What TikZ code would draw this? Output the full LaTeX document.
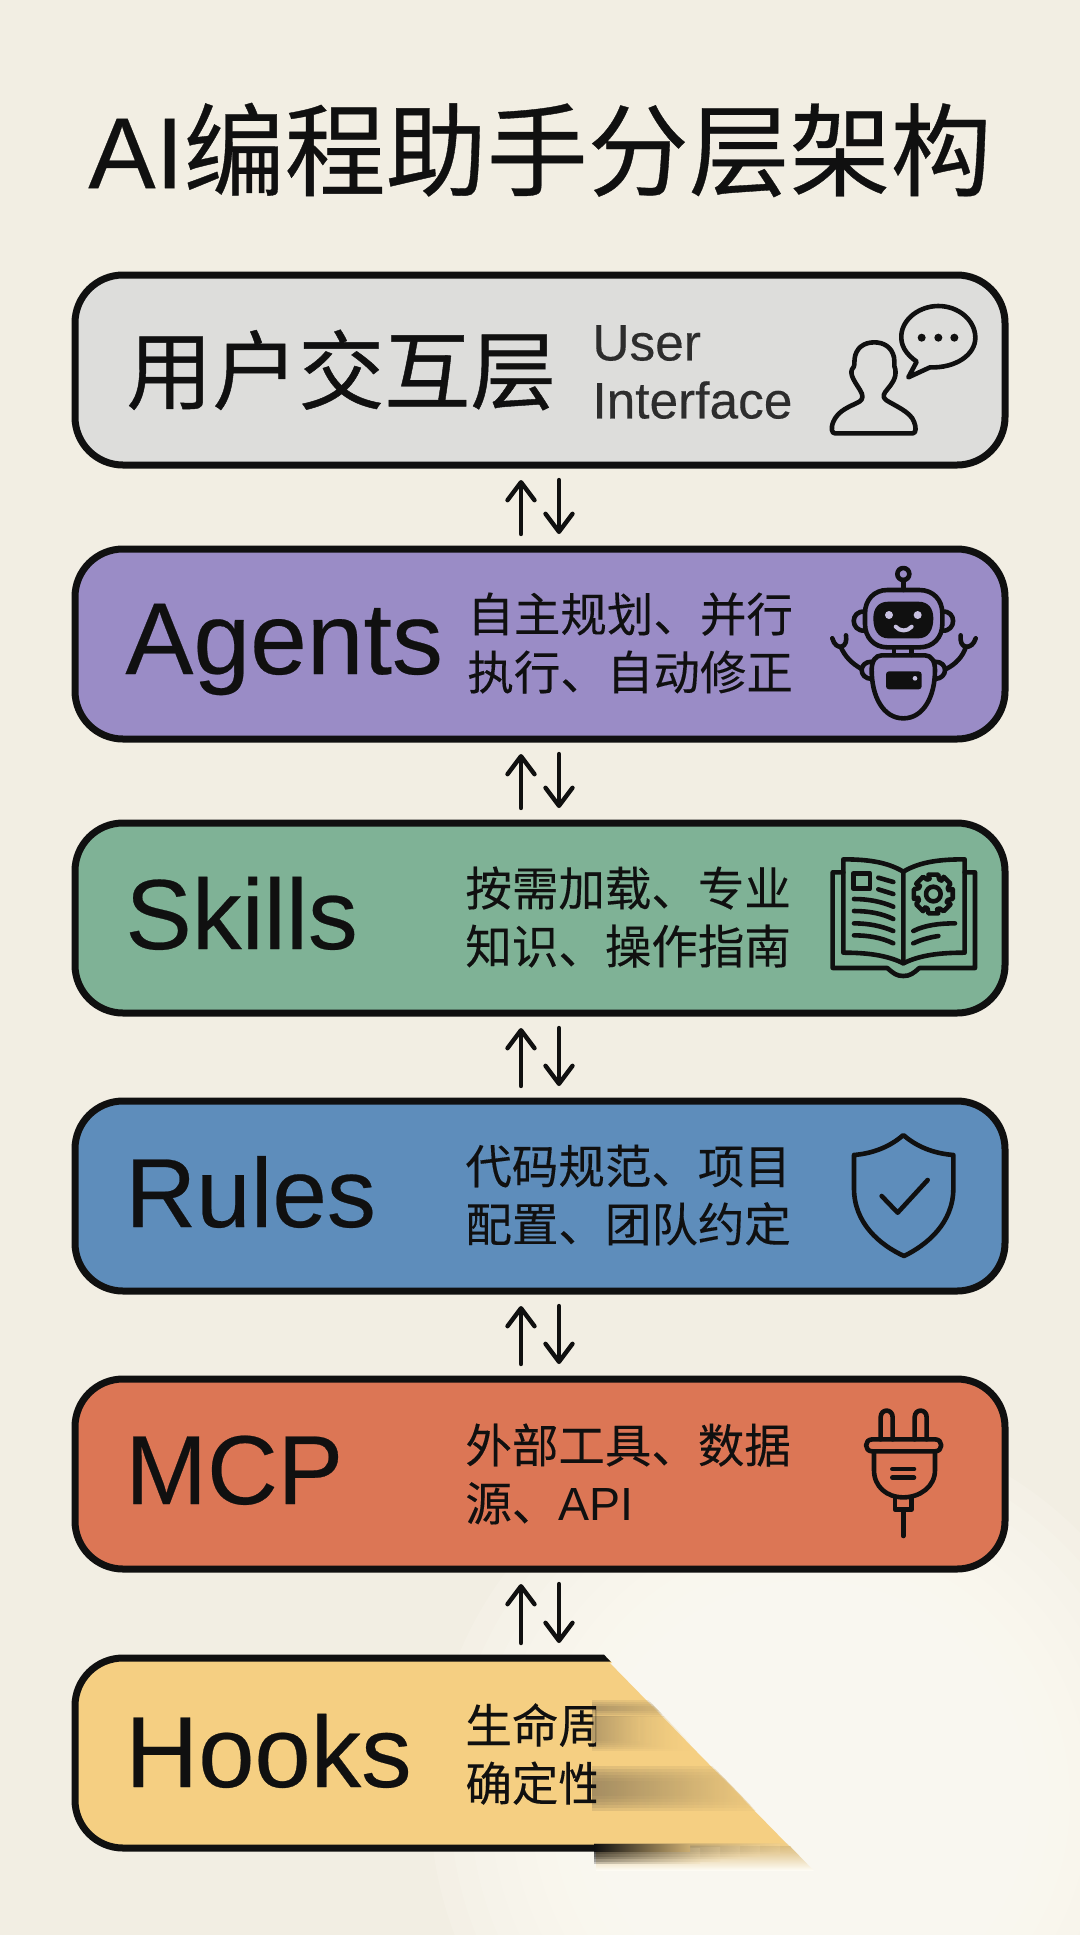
\documentclass[tikz,border=0pt]{standalone}
\usepackage{fontspec}
\setmainfont[FakeBold=0.25]{Liberation Sans}
\newfontfamily\cjk[FakeBold=0.5]{Noto Sans CJK SC}
\newfontfamily\cjkh[FakeBold=0.35]{Noto Sans CJK SC}
\newfontfamily\cjkt[FakeBold=0.2]{Noto Sans CJK SC}
\usetikzlibrary{arrows.meta}
\definecolor{bgc}{HTML}{F2EEE3}
\definecolor{ink}{HTML}{101010}
\definecolor{cgray}{HTML}{DDDDDB}
\definecolor{cpurple}{HTML}{9A8CC6}
\definecolor{cgreen}{HTML}{7FB296}
\definecolor{cblue}{HTML}{5E8DBB}
\definecolor{corange}{HTML}{DC7655}
\definecolor{cyellow}{HTML}{F5CF82}
\definecolor{smear}{HTML}{8F7C5A}
\definecolor{glow}{HTML}{FDFBF3}
\definecolor{warmwhite}{HTML}{FFFDF6}
\tikzset{
  layerbox/.style={draw=ink,line width=3.5pt,rounded corners=24pt,minimum width=465pt,minimum height=95pt,outer sep=0pt,inner sep=0pt},
  biglabel/.style={anchor=base west,text=ink,inner sep=0pt,font=\fontsize{49}{56}\selectfont},
  bigcjk/.style={anchor=west,text=ink,inner sep=0pt,font=\cjk\fontsize{43}{50}\selectfont},
  desc/.style={anchor=west,text=ink,inner sep=0pt,align=left,font=\cjkt\fontsize{23.25}{29}\selectfont},
  descen/.style={anchor=west,text=ink!88,inner sep=0pt,align=left,font=\fontsize{25.7}{29}\selectfont},
  uparr/.style={draw=ink,line width=2.2pt,line cap=round,-{Straight Barb[length=9pt,width=13.5pt,line width=2.2pt,round]},shorten <=7.5pt,shorten >=7.5pt},
  ico/.style={draw=ink,line width=2.3pt,line cap=round,line join=round},
  zoomgrid/.style={x=0.16667pt,y=-0.16667pt},
}
\begin{document}
\begin{tikzpicture}[x=0.5pt,y=-0.5pt]
\useasboundingbox (0,0) rectangle (1080,1935);
\fill[bgc] (0,0) rectangle (1080,1935);
\begin{scope}
  \clip (0,0) rectangle (1080,1935);
  \foreach \r in {140,160,...,380}{
    \fill[warmwhite,opacity=.16] (810,1800) circle (\r);
  }
\end{scope}

\node[inner sep=0pt,text=ink,font=\fontsize{50.5}{58}\selectfont] (title) at (540,150) {AI{\cjkh 编程助手分层架构}};

% layers
\node[layerbox,fill=cgray] (b1) at (540,370) {};
\node[layerbox,fill=cpurple] (b2) at (540,644) {};
\node[layerbox,fill=cgreen] (b3) at (540,918) {};
\node[layerbox,fill=cblue] (b4) at (540,1196) {};
\node[layerbox,fill=corange] (b5) at (540,1474) {};

% faded last layer
\fill[cyellow] (560,1659) -- (606,1659) -- (790,1847) -- (560,1847) -- cycle;
\begin{scope}
  \clip (0,1640) -- (590,1640) -- (612,1663) -- (596,1663) -- (596,1880) -- (0,1880) -- cycle;
  \node[layerbox,fill=cyellow] (b6) at (540,1753) {};
\end{scope}
\begin{scope}
  \clip (560,1640) -- (590,1640) -- (816,1873) -- (560,1873) -- cycle;
  \shade[top color=cyellow!75!smear,bottom color=glow] (596,1846) rectangle (830,1870);
  \foreach \i in {0,1,2,3,4,5}{
    \shade[left color=smear,right color=cyellow,opacity=.2] (592,1700+\i*2) rectangle (750-\i*12,1716-\i*2);
    \shade[left color=smear,right color=cyellow,opacity=.14] (592,1716) rectangle (690-\i*10,1750-\i*2);
    \shade[left color=smear,right color=cyellow,opacity=.22] (592,1766+\i*3) rectangle (790-\i*8,1810-\i*3);
    \shade[left color=ink,right color=cyellow!60!bgc,opacity=.22] (594,1843+\i) rectangle (800-\i*20,1851+\i*2.5);
  }
  \shade[left color=ink,right color=cyellow!60!smear] (594,1844) rectangle (690,1851);
\end{scope}

% connectors
\foreach \a/\b in {b1/b2,b2/b3,b3/b4,b4/b5,b5/b6}{
  \draw[uparr] ([xshift=-9.5pt]\b.north) -- ([xshift=-9.5pt]\a.south);
  \draw[uparr] ([xshift=9.5pt]\a.south) -- ([xshift=9.5pt]\b.north);
}

% labels
\node[bigcjk] (l1) at (126,370) {用户交互层};
\node[biglabel,font=\fontsize{51}{56}\selectfont] (l2) at (125,674) {Agents};
\node[biglabel,font=\fontsize{49.8}{56}\selectfont] (l3) at (125,949) {Skills};
\node[biglabel] (l4) at (125,1227) {Rules};
\node[biglabel] (l5) at (125,1504) {MCP};
\node[biglabel,font=\fontsize{50.5}{56}\selectfont] (l6) at (125,1787) {Hooks};

\node[descen] (d1) at (592,372) {User\\Interface};
\node[desc] (d2) at (467,643) {自主规划、并行\\执行、自动修正};
\node[desc] (d3) at (465,917) {按需加载、专业\\知识、操作指南};
\node[desc] (d4) at (465,1195) {代码规范、项目\\配置、团队约定};
\node[desc] (d5) at (465,1474) {外部工具、数据\\源、{\fontspec{Liberation Sans}API}};
\begin{scope}
  \clip (400,1690) rectangle (596,1820);
  \node[desc] (d6) at (465,1754) {生命周\\确定性};
\end{scope}

% icon 1: user + speech bubble
\begin{scope}[shift={(780,280)},zoomgrid]
  \draw[ico] (165,460) -- (398,460) .. controls (410,460) and (408,440) .. (402,425)
    .. controls (392,395) and (340,375) .. (318,360) .. controls (305,350) and (312,340) .. (322,328)
    .. controls (335,312) and (350,295) .. (346,268) .. controls (340,255) and (345,250) .. (342,232)
    .. controls (335,200) and (310,187) .. (283,187) .. controls (250,187) and (228,205) .. (224,235)
    .. controls (222,250) and (226,258) .. (216,268) .. controls (208,285) and (228,310) .. (240,330)
    .. controls (250,345) and (250,358) .. (238,365) .. controls (210,380) and (175,390) .. (160,425)
    .. controls (152,445) and (155,460) .. (165,460) -- cycle;
  \draw[ico] (410,245) .. controls (375,220) and (362,195) .. (364,165)
    .. controls (368,115) and (420,78) .. (475,78) .. controls (535,78) and (585,120) .. (586,172)
    .. controls (587,225) and (525,265) .. (450,262) -- (385,292) -- cycle;
  \fill[ink] (425,173) circle (12) (475,173) circle (12) (523,173) circle (12);
\end{scope}

% icon 2: robot
\begin{scope}[shift={(800,550)},zoomgrid]
  \draw[ico] (310,72) circle (18);
  \draw[ico] (310,90) -- (310,120);
  \draw[ico] (262,120) -- (358,120) .. controls (400,120) and (427,150) .. (427,190) -- (427,222)
    .. controls (427,262) and (400,292) .. (358,292) -- (262,292) .. controls (222,292) and (195,262) .. (195,222)
    -- (195,190) .. controls (195,150) and (222,120) .. (262,120) -- cycle;
  \fill[ink] (265,155) -- (355,155) .. controls (385,155) and (400,175) .. (400,205) .. controls (400,240) and (385,265) .. (355,265)
    -- (265,265) .. controls (235,265) and (220,240) .. (220,205) .. controls (220,175) and (235,155) .. (265,155) -- cycle;
  \fill[cpurple!55!white] (267,195) circle (12) (353,195) circle (12);
  \draw[cpurple!55!white,line width=2pt,line cap=round] (287,230) .. controls (300,245) and (322,245) .. (335,230);
  \draw[ico] (195,185) .. controls (150,180) and (150,245) .. (195,242);
  \draw[ico] (427,185) .. controls (470,180) and (470,245) .. (427,242);
  \draw[ico] (282,292) -- (282,315) (335,292) -- (335,315);
  \draw[ico] (245,316) -- (375,316) .. controls (395,316) and (405,335) .. (405,360)
    .. controls (405,440) and (370,505) .. (310,505) .. controls (250,505) and (215,440) .. (215,360)
    .. controls (215,335) and (225,316) .. (245,316) -- cycle;
  \fill[ink,rounded corners=1.5pt] (258,364) rectangle (365,418);
  \fill[cpurple!55!white] (345,385) circle (7);
  \draw[ico] (215,335) .. controls (175,335) and (175,385) .. (215,387);
  \draw[ico] (405,335) .. controls (445,335) and (445,385) .. (405,387);
  \draw[ico] (185,357) .. controls (155,340) and (135,320) .. (122,290);
  \draw[ico] (97,265) .. controls (102,285) and (115,292) .. (125,290) .. controls (138,285) and (140,272) .. (138,256);
  \draw[ico] (438,357) .. controls (468,342) and (488,320) .. (498,290);
  \draw[ico] (482,256) .. controls (480,275) and (485,288) .. (498,290) .. controls (510,292) and (522,282) .. (527,265);
\end{scope}

% icon 3: book
\begin{scope}[shift={(800,830)},zoomgrid]
  \draw[ico] (310,125) .. controls (260,95) and (200,88) .. (130,88) -- (130,368) .. controls (200,368) and (260,375) .. (310,400) -- cycle;
  \draw[ico] (310,125) .. controls (360,95) and (420,88) .. (494,88) -- (494,368) .. controls (420,368) and (360,375) .. (310,400);
  \draw[ico] (130,127) -- (98,127) -- (98,414) -- (262,414) .. controls (280,430) and (290,438) .. (310,438) .. controls (330,438) and (340,430) .. (358,414)
    -- (525,414) -- (525,127) -- (494,127);
  \draw[ico] (160,130) rectangle (210,176);
  \draw[ico] (235,143) -- (280,156) (235,178) -- (280,192);
  \draw[ico] (162,207) .. controls (205,207) and (245,215) .. (280,230);
  \draw[ico] (162,243) .. controls (205,243) and (245,250) .. (280,267);
  \draw[ico] (162,280) .. controls (205,280) and (245,288) .. (280,303);
  \draw[ico] (162,316) .. controls (205,316) and (245,323) .. (280,340);
  \draw[ico] (340,303) .. controls (375,285) and (420,280) .. (465,280);
  \draw[ico] (340,340) .. controls (365,328) and (390,322) .. (415,318);
  \begin{scope}[shift={(400,192)}]
    \draw[ico] (0,0) circle (22);
    \draw[ico] (-14:60) \foreach \a in {0,45,...,315}{
      -- (\a-14:60) -- (\a+14:60) -- (\a+22:47) -- (\a+31:47) } -- cycle;
  \end{scope}
\end{scope}

% icon 4: shield
\begin{scope}[shift={(820,1110)},zoomgrid]
  \draw[ico] (250,75) .. controls (210,110) and (160,130) .. (102,135) -- (102,235)
    .. controls (102,340) and (180,405) .. (252,438) .. controls (320,405) and (400,340) .. (400,235)
    -- (400,135) .. controls (340,130) and (290,110) .. (250,75) -- cycle;
  \draw[ico] (185,258) -- (233,308) -- (323,210);
\end{scope}

% icon 5: plug
\begin{scope}[shift={(840,1390)},zoomgrid]
  \draw[ico] (122,148) -- (122,82) .. controls (122,55) and (158,55) .. (158,82) -- (158,148);
  \draw[ico] (224,148) -- (224,82) .. controls (224,55) and (260,55) .. (260,82) -- (260,148);
  \draw[ico] (97,148) -- (285,148) .. controls (310,148) and (310,184) .. (285,184) -- (97,184) .. controls (72,184) and (72,148) .. (97,148) -- cycle;
  \draw[ico] (102,184) -- (102,240) .. controls (102,290) and (140,322) .. (190,322) .. controls (240,322) and (285,290) .. (285,240) -- (285,184);
  \draw[ico] (157,237) -- (222,237) (157,263) -- (222,263);
  \draw[ico] (165,322) -- (165,358) -- (215,358) -- (215,322);
  \draw[ico] (190,358) -- (190,438);
\end{scope}
\end{tikzpicture}
\end{document}
